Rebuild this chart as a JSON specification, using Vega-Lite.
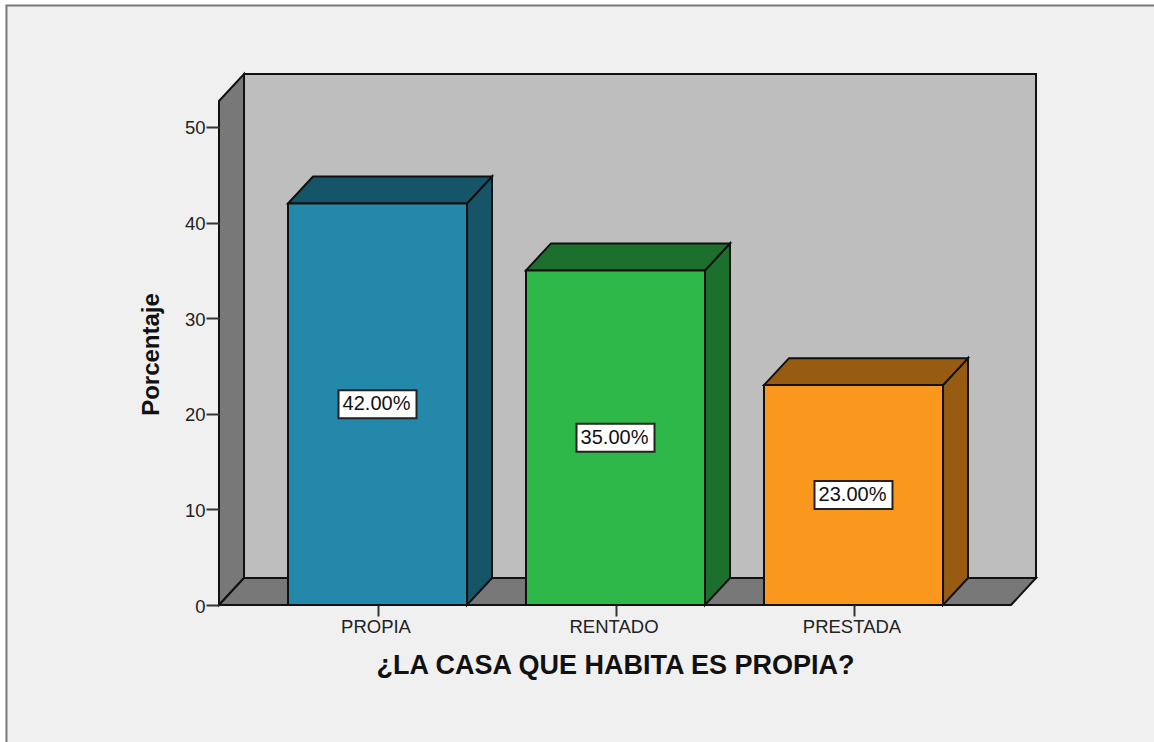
{
"$schema":"https://vega.github.io/schema/vega-lite/v6.json",
"width":817,"height":531,
"autosize":{"type":"none"},
"padding":{"left":219,"top":74,"right":118,"bottom":137},
"background":"#ffffff",
"config":{"view":{"stroke":null},"font":"Liberation Sans"},
"datasets":{
"frame":[{"left":-0.559,"right":4.30,"top":62.71,"bottom":-15.2}],
"wall":[{"left":0.4391,"right":3.7668,"top":55.54,"bottom":2.82}],
"faces":[
{"face":"wallside","xpos":0.3340,"hi":52.72,"lo":0},
{"face":"wallside","xpos":0.4391,"hi":55.54,"lo":2.82},
{"face":"floor","xpos":0.3340,"hi":0,"lo":0},
{"face":"floor","xpos":0.4391,"hi":2.82,"lo":0},
{"face":"floor","xpos":3.6618,"hi":2.82,"lo":0},
{"face":"floor","xpos":3.7668,"hi":2.82,"lo":2.82},
{"face":"PROPIA side","xpos":1.3761,"hi":42,"lo":0},
{"face":"PROPIA side","xpos":1.4811,"hi":44.82,"lo":2.82},
{"face":"PROPIA top","xpos":0.6239,"hi":42,"lo":42},
{"face":"PROPIA top","xpos":0.7290,"hi":44.82,"lo":42},
{"face":"PROPIA top","xpos":1.3761,"hi":44.82,"lo":42},
{"face":"PROPIA top","xpos":1.4811,"hi":44.82,"lo":44.82},
{"face":"RENTADO side","xpos":2.3761,"hi":35,"lo":0},
{"face":"RENTADO side","xpos":2.4811,"hi":37.82,"lo":2.82},
{"face":"RENTADO top","xpos":1.6239,"hi":35,"lo":35},
{"face":"RENTADO top","xpos":1.7290,"hi":37.82,"lo":35},
{"face":"RENTADO top","xpos":2.3761,"hi":37.82,"lo":35},
{"face":"RENTADO top","xpos":2.4811,"hi":37.82,"lo":37.82},
{"face":"PRESTADA side","xpos":3.3761,"hi":23,"lo":0},
{"face":"PRESTADA side","xpos":3.4811,"hi":25.82,"lo":2.82},
{"face":"PRESTADA top","xpos":2.6239,"hi":23,"lo":23},
{"face":"PRESTADA top","xpos":2.7290,"hi":25.82,"lo":23},
{"face":"PRESTADA top","xpos":3.3761,"hi":25.82,"lo":23},
{"face":"PRESTADA top","xpos":3.4811,"hi":25.82,"lo":25.82}
],
"bars":[
{"category":"PROPIA","order":1,"left":0.6239,"right":1.3761,"percent":42,"mid":21,"label":"42.00%"},
{"category":"RENTADO","order":2,"left":1.6239,"right":2.3761,"percent":35,"mid":17.5,"label":"35.00%"},
{"category":"PRESTADA","order":3,"left":2.6239,"right":3.3761,"percent":23,"mid":11.5,"label":"23.00%"}
]},
"layer":[
{"data":{"name":"frame"},"mark":{"type":"rect","fill":"#f0f0f0","stroke":"#777777","strokeWidth":2,"clip":false},
 "encoding":{
  "x":{"field":"left","type":"quantitative","scale":{"domain":[0.334,3.7668],"nice":false,"zero":false},
   "axis":{"zindex":1,"values":[1,2,3],"labelExpr":"datum.value==1?'PROPIA':datum.value==2?'RENTADO':'PRESTADA'","grid":false,"domain":false,"tickSize":11,"tickWidth":2,"tickColor":"#333333","labelFont":"Liberation Sans","labelFontSize":18.5,"labelColor":"#222222","labelPadding":1,"labelOffset":-2,"title":"¿LA CASA QUE HABITA ES PROPIA?","titleFont":"Liberation Sans","titleFontWeight":"bold","titleFontSize":27,"titleColor":"#111111","titlePadding":17,"titleX":396}},
  "x2":{"field":"right"},
  "y":{"field":"top","type":"quantitative","scale":{"domain":[0,55.54],"nice":false,"zero":false},
   "axis":{"zindex":1,"values":[0,10,20,30,40,50],"grid":false,"domain":false,"tickSize":13,"tickWidth":2,"tickColor":"#333333","labelFont":"Liberation Sans","labelFontSize":18.5,"labelColor":"#222222","labelPadding":1,"labelOffset":1,"title":"Porcentaje","titleFont":"Liberation Sans","titleFontWeight":"bold","titleFontSize":24,"titleColor":"#111111","titlePadding":21,"titleY":280}},
  "y2":{"field":"bottom"}}},
{"data":{"name":"wall"},"mark":{"type":"rect","fill":"#bebebe","stroke":"#111111","strokeWidth":2},
 "encoding":{"x":{"field":"left","type":"quantitative","scale":{"domain":[0.334,3.7668],"nice":false,"zero":false}},"x2":{"field":"right"},"y":{"field":"top","type":"quantitative","scale":{"domain":[0,55.54],"nice":false,"zero":false}},"y2":{"field":"bottom"}}},
{"data":{"name":"faces"},"mark":{"type":"area","orient":"vertical","stroke":"#111111","strokeWidth":2},
 "encoding":{
  "x":{"field":"xpos","type":"quantitative","scale":{"domain":[0.334,3.7668],"nice":false,"zero":false}},
  "y":{"field":"hi","type":"quantitative","stack":null,"scale":{"domain":[0,55.54],"nice":false,"zero":false}},
  "y2":{"field":"lo"},
  "fill":{"field":"face","type":"nominal","legend":null,"scale":{
   "domain":["wallside","floor","PROPIA side","PROPIA top","RENTADO side","RENTADO top","PRESTADA side","PRESTADA top","PROPIA","RENTADO","PRESTADA"],
   "range":["#787878","#787878","#165468","#165468","#1d6f2d","#1d6f2d","#975c12","#975c12","#2488ab","#2eb84a","#fa981e"]}}}},
{"data":{"name":"bars"},"mark":{"type":"rect","stroke":"#111111","strokeWidth":2},
 "encoding":{
  "x":{"field":"left","type":"quantitative","scale":{"domain":[0.334,3.7668],"nice":false,"zero":false}},"x2":{"field":"right"},
  "y":{"field":"percent","type":"quantitative","scale":{"domain":[0,55.54],"nice":false,"zero":false}},"y2":{"datum":0},
  "fill":{"field":"category","type":"nominal","legend":null,"scale":{
   "domain":["wallside","floor","PROPIA side","PROPIA top","RENTADO side","RENTADO top","PRESTADA side","PRESTADA top","PROPIA","RENTADO","PRESTADA"],
   "range":["#787878","#787878","#165468","#165468","#1d6f2d","#1d6f2d","#975c12","#975c12","#2488ab","#2eb84a","#fa981e"]}}}},
{"data":{"name":"bars"},"mark":{"type":"point","shape":"M-1,-0.36H1V0.36H-1Z","size":6084,"filled":true,"opacity":1,"fill":"#ffffff","stroke":"#222222","strokeWidth":2},
 "encoding":{"x":{"field":"order","type":"quantitative","scale":{"domain":[0.334,3.7668],"nice":false,"zero":false}},"y":{"field":"mid","type":"quantitative","scale":{"domain":[0,55.54],"nice":false,"zero":false}}}},
{"data":{"name":"bars"},"mark":{"type":"text","font":"Liberation Sans","fontSize":20,"dx":-1,"fill":"#111111","baseline":"middle","align":"center"},
 "encoding":{"x":{"field":"order","type":"quantitative","scale":{"domain":[0.334,3.7668],"nice":false,"zero":false}},"y":{"field":"mid","type":"quantitative","scale":{"domain":[0,55.54],"nice":false,"zero":false}},"text":{"field":"label"}}}
]}
